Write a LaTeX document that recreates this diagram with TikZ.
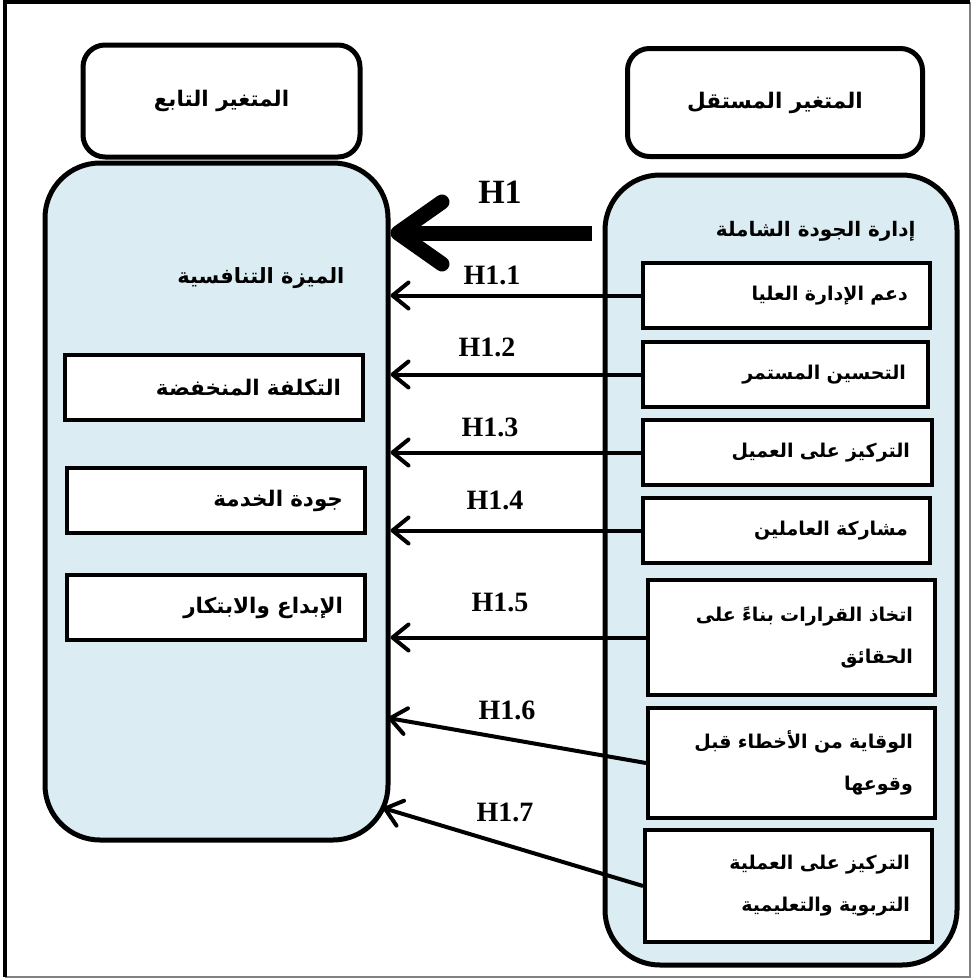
\documentclass[tikz,border=0pt]{standalone}
\usepackage{fontspec}
\setmainfont{Liberation Serif}
\newfontfamily\arabicfont[Script=Arabic]{DejaVu Sans}
\TeXXeTstate=1
\usetikzlibrary{arrows.meta}
\definecolor{panelblue}{RGB}{219,237,243}
\newcommand{\artext}[1]{\beginR #1\endR}

\begin{document}
\begin{tikzpicture}[x=1pt, y=-1pt,
            head/.style={draw, line width=5pt, rounded corners=22pt, fill=white, font=\arabicfont\bfseries\fontsize{21.5}{25}\selectfont},
            panel/.style={draw, line width=5pt, rounded corners=55pt, fill=panelblue},
            item/.style={draw, line width=4pt, fill=white, align=right, inner xsep=22pt, font=\arabicfont\bfseries\fontsize{19}{42}\selectfont},
            bigitem/.style={item, font=\arabicfont\bfseries\fontsize{21.5}{25}\selectfont},
            title/.style={anchor=east, font=\arabicfont\bfseries\fontsize{21}{25}\selectfont},
            hyp/.style={font=\bfseries\fontsize{28}{30}\selectfont},
            link/.style={line width=4pt, -{Straight Barb[length=16pt, width=26pt, round]}}
            ]
            \useasboundingbox (0,0) rectangle (975,980);
            \draw[line width=2pt, gray] (970,2) -- (970,977) -- (5,977);
            \draw[line width=3.5pt] (5,977) -- (5,2) -- (970,2);

            \node[head, minimum width=277pt, minimum height=112pt] (dephead) at (221.5,101) {\artext{المتغير التابع}};
            \node[head, minimum width=295pt, minimum height=108pt] (indhead) at (775,102.5) {\artext{المتغير المستقل}};

            \node[panel, minimum width=343pt, minimum height=677pt] (dep) at (216.5,501.5) {};
            \node[panel, minimum width=352pt, minimum height=790pt] (ind) at (781,570) {};

            \node[title] (deptitle) at (348,278) {\artext{الميزة التنافسية}};
            \node[title, font=\arabicfont\bfseries\fontsize{20}{24}\selectfont] (indtitle) at (919,231) {\artext{إدارة الجودة الشاملة}};

            \node[bigitem, text width=254pt, minimum height=65pt] (cost) at (214,387.5) {\artext{التكلفة المنخفضة}};
            \node[bigitem, text width=254pt, minimum height=65pt] (service) at (216,500.5) {\artext{جودة الخدمة}};
            \node[bigitem, text width=254pt, minimum height=65pt] (innov) at (216,607.5) {\artext{الإبداع والابتكار}};

            \node[item, text width=243pt, minimum height=65pt] (support) at (786.5,295.5) {\artext{دعم الإدارة العليا}};
            \node[item, text width=241pt, minimum height=65pt] (improve) at (785.5,374.5) {\artext{التحسين المستمر}};
            \node[item, text width=245pt, minimum height=65pt] (customer) at (787.5,452.5) {\artext{التركيز على العميل}};
            \node[item, text width=243pt, minimum height=65pt] (staff) at (786.5,530.5) {\artext{مشاركة العاملين}};
            \node[item, text width=243pt, minimum height=115pt] (facts) at (791.5,637.5) {\artext{اتخاذ القرارات بناءً على}\\\artext{الحقائق}};
            \node[item, text width=243pt, minimum height=110pt] (prevent) at (791.5,763) {\artext{الوقاية من الأخطاء قبل}\\\artext{وقوعها}};
            \node[item, text width=243pt, minimum height=112pt] (process) at (788.5,886) {\artext{التركيز على العملية}\\\artext{التربوية والتعليمية}};

            \coordinate (h1start) at (592,233);
            \coordinate (tip6) at (388,718);
            \coordinate (tip7) at (383,808);

            \draw[line width=15pt, -{Straight Barb[length=44pt, width=62pt, round]}] (h1start) -- (h1start -| dep.east);
            \draw[link] (support.west) -- (support.west -| dep.east);
            \draw[link] (improve.west) -- (improve.west -| dep.east);
            \draw[link] (customer.west) -- (customer.west -| dep.east);
            \draw[link] (staff.west) -- (staff.west -| dep.east);
            \draw[link] (facts.west) -- (facts.west -| dep.east);
            \draw[link] (prevent.west) -- (tip6);
            \draw[link] (process.west) -- (tip7);

            \node[hyp, font=\bfseries\fontsize{34}{36}\selectfont] (h1) at (500,192) {H1};
            \node[hyp] (h11) at (492,275) {H1.1};
            \node[hyp] (h12) at (487,347) {H1.2};
            \node[hyp] (h13) at (490,427) {H1.3};
            \node[hyp] (h14) at (495,500) {H1.4};
            \node[hyp] (h15) at (500,602) {H1.5};
            \node[hyp] (h16) at (507,710) {H1.6};
            \node[hyp] (h17) at (505,812) {H1.7};
\end{tikzpicture}
\end{document}
